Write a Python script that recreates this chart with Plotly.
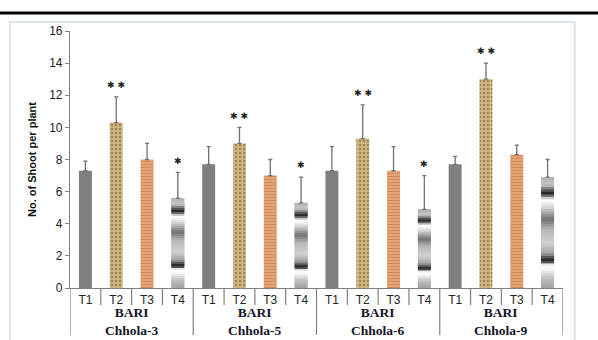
import plotly.graph_objects as go

groups = ["BARI<br>Chhola-3", "BARI<br>Chhola-5", "BARI<br>Chhola-6", "BARI<br>Chhola-9"]
treatments = ["T1", "T2", "T3", "T4"]
t1 = [7.3, 7.7, 7.3, 7.7]
t2 = [10.3, 9.0, 9.3, 13.0]
t3 = [8.0, 7.0, 7.3, 8.3]
t4 = [5.6, 5.3, 4.9, 6.9]
e1 = [0.6, 1.1, 1.5, 0.5]
e2 = [1.6, 1.0, 2.1, 1.0]
e3 = [1.0, 1.0, 1.5, 0.6]
e4 = [1.6, 1.6, 2.1, 1.1]
sig2 = ["**", "**", "**", "**"]
sig4 = ["*", "*", "*", ""]

series = [t1, t2, t3, t4]
errs = [e1, e2, e3, e4]
ng, nt = len(groups), len(treatments)
pos = [[g * nt + t for g in range(ng)] for t in range(nt)]
W = 0.42

fig = go.Figure()
fig.add_trace(go.Bar(x=pos[0], y=t1, width=W, marker=dict(color="#7f7f7f", line_width=0)))
fig.add_trace(go.Bar(x=pos[1], y=t2, width=W, marker=dict(
    color="#cfb683", line_width=0,
    pattern=dict(shape=".", fgcolor="#6e5228", size=4, solidity=0.3))))
fig.add_trace(go.Bar(x=pos[2], y=t3, width=W, marker=dict(
    color="#e6a87a", line_width=0,
    pattern=dict(shape="-", fgcolor="#c07040", size=3, solidity=0.45))))

# T4: banded grey gradient built from stacked slices of each bar
profile = [(0.00, 160), (0.09, 192), (0.18, 255), (0.21, 240), (0.24, 32), (0.26, 48),
           (0.31, 160), (0.40, 208), (0.53, 184), (0.62, 112), (0.73, 216), (0.79, 255),
           (0.81, 208), (0.85, 32), (0.87, 64), (0.93, 200), (1.00, 176)]

def grey(f):
    for (a, ca), (b, cb) in zip(profile[:-1], profile[1:]):
        if a <= f <= b:
            c = int(round(ca + (cb - ca) * (f - a) / (b - a)))
            return f"rgb({c},{c},{c})"
    return "rgb(176,176,176)"

N = 45
for k in range(N):
    h = min(2.0 / N, 1 - k / N)
    fig.add_trace(go.Bar(x=pos[3], y=[v * h for v in t4], base=[v * k / N for v in t4],
                         width=W, marker=dict(color=grey((k + 0.5) / N), line_width=0)))

# error bars (upper only)
for t in range(nt):
    fig.add_trace(go.Scatter(x=pos[t], y=series[t], mode="markers", marker=dict(opacity=0, size=1),
                             error_y=dict(type="data", array=errs[t], arrayminus=[0] * ng,
                                          color="#707070", thickness=1.3, width=2)))

# significance stars
for t, sig in ((1, sig2), (3, sig4)):
    for g in range(ng):
        if sig[g]:
            fig.add_annotation(x=pos[t][g], y=series[t][g] + errs[t][g] + 0.3,
                               text=" ".join("\u2731" for _ in sig[g]),
                               showarrow=False, yanchor="bottom",
                               font=dict(family="DejaVu Sans", size=9, color="#222"))

shapes = []
for i in range(ng * nt + 1):
    x = i - 0.5
    y1 = -0.183 if i % nt == 0 else -0.066
    shapes.append(dict(type="line", xref="x", yref="paper", x0=x, x1=x, y0=0, y1=y1,
                       line=dict(color="#808080", width=1.2)))
shapes.append(dict(type="line", xref="paper", yref="paper", x0=-0.15, x1=1.1, y0=1.07, y1=1.07,
                   line=dict(color="black", width=3)))
shapes.append(dict(type="rect", xref="paper", yref="paper", x0=-0.122, x1=1.024, y0=-0.3, y1=1.035,
                   line=dict(color="#dbe5f1", width=2)))

for g in range(ng):
    fig.add_annotation(x=g * nt + (nt - 1) / 2, y=-0.06, xref="x", yref="paper",
                       text="<b>" + groups[g] + "</b>", showarrow=False, yanchor="top",
                       font=dict(family="Liberation Serif", size=13.5, color="#14142a"))

fig.update_layout(
    width=598, height=340, margin=dict(l=70, r=35, t=31, b=52),
    paper_bgcolor="white", plot_bgcolor="white", showlegend=False,
    barmode="overlay", shapes=shapes,
    xaxis=dict(range=[-0.5, ng * nt - 0.5], tickvals=[p for t in range(nt) for p in pos[t]],
               ticktext=[treatments[t] for t in range(nt) for _ in range(ng)],
               showline=True, linecolor="#808080", linewidth=1.2, ticks="", showgrid=False,
               zeroline=False, tickfont=dict(family="Liberation Sans", size=12, color="#222")),
    yaxis=dict(range=[0, 16], dtick=2, showline=True, linecolor="#808080", linewidth=1.2,
               ticks="outside", ticklen=4, tickcolor="#808080", showgrid=False, zeroline=False,
               tickfont=dict(family="Liberation Sans", size=12, color="#222"),
               title=dict(text="<b>No. of Shoot per plant</b>", standoff=10,
                          font=dict(family="Liberation Sans", size=11, color="#111"))),
)

fig.write_html("out.html")
